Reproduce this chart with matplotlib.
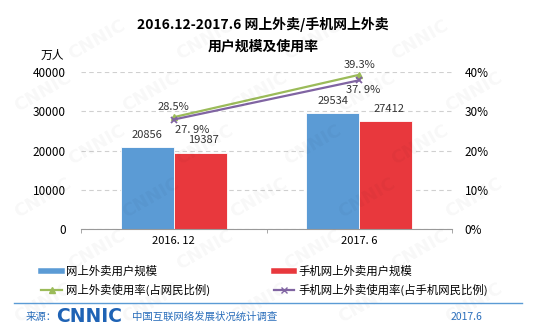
import numpy as np
import matplotlib
matplotlib.use("Agg")
import matplotlib.pyplot as plt
from matplotlib.lines import Line2D

plt.rcParams["font.family"] = ["Noto Sans CJK SC", "DejaVu Sans"]

categories = ["2016. 12", "2017. 6"]
users_all = [20856, 29534]
users_mobile = [19387, 27412]
rate_all = [28.5, 39.3]
rate_mobile = [27.9, 37.9]
rate_all_lbl = ["28.5%", "39.3%"]
rate_mobile_lbl = ["27. 9%", "37. 9%"]

BLUE = "#5b9bd5"
RED = "#e8383d"
GREEN = "#9bbb59"
PURPLE = "#8064a2"
FOOT = "#2a6ebb"

fig = plt.figure(figsize=(5.39, 3.29), dpi=100)

# faint background watermark (kept inside the canvas)
for row, gy in enumerate(np.arange(0.08, 0.95, 0.16)):
    off = 0.1 if row % 2 else 0.0
    for gx in np.arange(0.08 + off, 0.93, 0.2):
        fig.text(gx, gy, "CNNIC", rotation=30, fontsize=13, fontweight="bold",
                 color="#000000", alpha=0.03, ha="center", va="center",
                 family=["DejaVu Sans"], zorder=0)

ax = fig.add_axes([0.1503, 0.304, 0.6883, 0.477])
ax.patch.set_alpha(0)

x = np.arange(len(categories)) + 0.5
w = 0.285
ax.bar(x - w / 2, users_all, w, color=BLUE, edgecolor="white", lw=0.6, zorder=2)
ax.bar(x + w / 2, users_mobile, w, color=RED, edgecolor="white", lw=0.6, zorder=2)
for xi, v in zip(x, users_all):
    ax.text(xi - w / 2, v + 1900, f"{v}", ha="center", va="bottom", fontsize=8, color="#333333")
for xi, v in zip(x, users_mobile):
    ax.text(xi + w / 2 + 0.02, v + 1900, f"{v}", ha="center", va="bottom", fontsize=8, color="#333333")

ax.set_xlim(0, 2)
ax.set_ylim(0, 40000)
ax.set_yticks([0, 10000, 20000, 30000, 40000])
ax.set_xticks(x)
ax.set_xticklabels(categories, fontsize=8)
ax.set_xticks([0, 1, 2], minor=True)
ax.tick_params(axis="x", which="major", length=0, pad=5)
ax.tick_params(axis="x", which="minor", length=3, color="#999999")
ax.tick_params(axis="y", length=0, labelsize=8.5, pad=11)
ax.yaxis.grid(True, ls=(0, (4, 3)), color="#d0d0d0", lw=0.8, zorder=0)
ax.set_axisbelow(True)
for s in ["top", "right", "left"]:
    ax.spines[s].set_visible(False)
ax.spines["bottom"].set_color("#999999")

ax2 = ax.twinx()
ax2.set_ylim(0, 40)
ax2.set_yticks([0, 10, 20, 30, 40])
ax2.set_yticklabels([f"{t}%" for t in [0, 10, 20, 30, 40]])
ax2.tick_params(axis="y", length=0, labelsize=8.5, pad=9)
for s in ["top", "right", "left", "bottom"]:
    ax2.spines[s].set_visible(False)
ax2.plot(x, rate_all, color=GREEN, lw=1.6, marker="^", ms=5, zorder=3)
ax2.plot(x, rate_mobile, color=PURPLE, lw=1.6, marker="x", ms=5, mew=1.3, zorder=3)
for xi, v, t in zip(x, rate_all, rate_all_lbl):
    ax2.text(xi, v + 1.2, t, ha="center", va="bottom", fontsize=8, color="#333333")
for xi, dx, v, t in zip(x, [0.1, 0.02], rate_mobile, rate_mobile_lbl):
    ax2.text(xi + dx, v - 1.3, t, ha="center", va="top", fontsize=8, color="#333333")

fig.text(0.488, 0.927, "2016.12-2017.6 网上外卖/手机网上外卖", ha="center", va="center",
         fontsize=10, fontweight="bold")
fig.text(0.488, 0.860, "用户规模及使用率", ha="center", va="center", fontsize=10, fontweight="bold")
fig.text(0.097, 0.832, "万人", ha="center", va="center", fontsize=8.5)

h1 = [Line2D([], [], color=BLUE, lw=4),
      Line2D([], [], color=GREEN, lw=1.6, marker="^", ms=4)]
h2 = [Line2D([], [], color=RED, lw=4),
      Line2D([], [], color=PURPLE, lw=1.6, marker="x", ms=4)]
fig.legend(h1, ["网上外卖用户规模", "网上外卖使用率(占网民比例)"], loc="upper left",
           bbox_to_anchor=(0.066, 0.21), frameon=False, fontsize=8.2, handlelength=1.8,
           handletextpad=0.4, labelspacing=0.6, borderpad=0)
fig.legend(h2, ["手机网上外卖用户规模", "手机网上外卖使用率(占手机网民比例)"], loc="upper left",
           bbox_to_anchor=(0.497, 0.21), frameon=False, fontsize=8.2, handlelength=1.8,
           handletextpad=0.4, labelspacing=0.6, borderpad=0)

fig.add_artist(Line2D([0.026, 0.968], [0.079, 0.079], color=BLUE, lw=1.0))
fig.text(0.048, 0.037, "来源：", ha="left", va="center", fontsize=7.5, color=FOOT)
fig.text(0.104, 0.037, "CNNIC", ha="left", va="center", fontsize=13.5, fontweight="bold",
         color="#1f63b5", family=["DejaVu Sans"])
fig.text(0.245, 0.037, "中国互联网络发展状况统计调查", ha="left", va="center", fontsize=7.5, color=FOOT)
fig.text(0.865, 0.037, "2017.6", ha="center", va="center", fontsize=7.5, color=FOOT)

fig.savefig("out.png", dpi=100)
